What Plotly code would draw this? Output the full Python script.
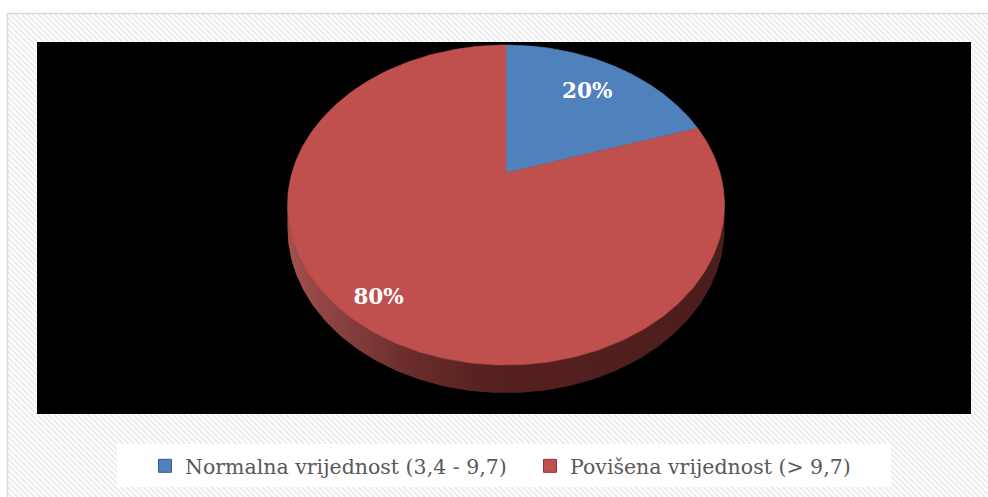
import base64
import numpy as np
import plotly.graph_objects as go

# ---------------- data ----------------
categories = ["Normalna vrijednost (3,4 - 9,7)", "Povišena vrijednost (> 9,7)"]
values = [20, 80]
label_texts = ["20%", "80%"]

# ---------------- style ----------------
top_colors = ["#4f81bd", "#c0504d"]
key_border = ["#385d8a", "#8c3836"]
wall_scales = [
    [[0, "#3c5f8c"], [1, "#2a4468"]],
    [[0, "#a4504d"], [0.12, "#88413f"], [0.26, "#6c2f2d"], [0.45, "#56211f"], [1, "#4c1d1d"]],
]
label_radius = [0.72, 0.87]

W, H = 988, 497
PL, PR, PT, PB = 37, 971, 42, 414          # plot area in pixels
CXP, CYP = 506, 173                         # pie centre in pixels
SX, SC, K, DEPTH = 214.1, 153.6, 0.2, 22.4  # perspective pie geometry


def proj(theta, r=1.0, bottom=False):
    X = r * np.sin(theta)
    Z = r * np.cos(theta)
    w = 1 + K * Z
    u = SX * X / w
    v = (SC * Z - (DEPTH if bottom else 0.0)) / w
    return u, v


total = float(sum(values))
fracs = [v / total for v in values]
starts = np.cumsum([0] + fracs[:-1]) * 2 * np.pi
ends = np.cumsum(fracs) * 2 * np.pi

fig = go.Figure()

# visible outer wall (front side)
vis_a = np.arccos(-K)
vis_b = 2 * np.pi - vis_a
for i, cat in enumerate(categories):
    a = max(starts[i], vis_a)
    b = min(ends[i], vis_b)
    if b <= a:
        continue
    th = np.linspace(a, b, 200)
    ut, vt = proj(th)
    ub, vb = proj(th[::-1], bottom=True)
    fig.add_trace(go.Scatter(
        x=np.concatenate([ut, ub, ut[:1]]), y=np.concatenate([vt, vb, vt[:1]]),
        mode="lines", fill="toself", line=dict(width=0),
        fillgradient=dict(type="horizontal", colorscale=wall_scales[i]),
        showlegend=False, hoverinfo="skip"))

# top faces
for i, cat in enumerate(categories):
    th = np.linspace(starts[i], ends[i], 300)
    u, v = proj(th)
    fig.add_trace(go.Scatter(
        x=np.concatenate([[0], u, [0]]), y=np.concatenate([[0], v, [0]]),
        mode="lines", fill="toself", fillcolor=top_colors[i],
        line=dict(width=0.6, color=top_colors[i]),
        showlegend=False, hoverinfo="skip"))

# data labels
for i, cat in enumerate(categories):
    mid = (starts[i] + ends[i]) / 2
    u, v = proj(mid, r=label_radius[i])
    fig.add_trace(go.Scatter(
        x=[u], y=[v], mode="text", text=[label_texts[i]],
        textfont=dict(family="DejaVu Serif", size=21.5, color="white", weight="bold"),
        showlegend=False, hoverinfo="skip"))

# legend keys
for i, cat in enumerate(categories):
    fig.add_trace(go.Scatter(
        x=[None], y=[None], mode="markers", name=cat,
        marker=dict(symbol="square", size=13, color=top_colors[i],
                    line=dict(width=1, color=key_border[i]))))

# ---------------- background decoration ----------------
svg = f'''<svg xmlns="http://www.w3.org/2000/svg" width="{W}" height="{H}" viewBox="0 0 {W} {H}" preserveAspectRatio="none">
<defs><pattern id="h" width="4" height="4" patternUnits="userSpaceOnUse" patternTransform="rotate(-45)">
<rect width="4" height="4" fill="#ffffff"/><rect width="2" height="4" fill="#ececec"/></pattern></defs>
<path fill-rule="evenodd" fill="url(#h)" d="M7,13 H{W+10} V{H+10} H7 Z M{PL},{PT} V{PB} H{PR} V{PT} Z"/>
<rect x="7.5" y="13.5" width="{W+10}" height="{H+10}" fill="none" stroke="#d9d9d9" stroke-width="1.5"/>
</svg>'''
src = "data:image/svg+xml;base64," + base64.b64encode(svg.encode()).decode()

pw, ph = PR - PL, PB - PT
fig.add_layout_image(dict(
    source=src, xref="paper", yref="paper",
    x=-PL / pw, y=1 + PT / ph, sizex=W / pw, sizey=H / ph,
    xanchor="left", yanchor="top", sizing="stretch", layer="below"))

# legend white box
fig.add_shape(type="rect", xref="paper", yref="paper",
              x0=(117 - PL) / pw, x1=(891 - PL) / pw,
              y0=(PB - 487) / ph, y1=(PB - 444) / ph,
              fillcolor="white", line=dict(width=0), layer="below")

fig.update_layout(
    width=W, height=H,
    margin=dict(l=PL, r=W - PR, t=PT, b=H - PB, autoexpand=False),
    paper_bgcolor="white", plot_bgcolor="black",
    xaxis=dict(range=[PL - CXP, PR - CXP], visible=False, fixedrange=True),
    yaxis=dict(range=[CYP - PB, CYP - PT], visible=False, fixedrange=True),
    showlegend=True,
    legend=dict(orientation="h", xanchor="center", x=(530 - PL) / pw,
                yanchor="middle", y=(PB - 466) / ph,
                bgcolor="rgba(0,0,0,0)", entrywidth=340,
                font=dict(family="DejaVu Serif", size=20.5, color="#595959"),
                itemclick=False, itemdoubleclick=False),
    hovermode=False,
)

fig.write_html("out.html", config={"displayModeBar": False},
               post_script="document.body.style.margin='0';")
